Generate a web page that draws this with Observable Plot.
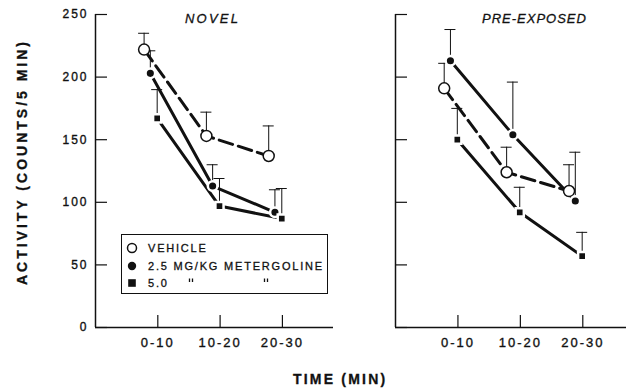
<!DOCTYPE html>
<html><head><meta charset="utf-8">
<script src="https://cdn.jsdelivr.net/npm/d3@7"></script>
<script src="https://cdn.jsdelivr.net/npm/@observablehq/plot@0.6"></script>
<style>
body{margin:0;background:#fff;}
#wrap{position:relative;width:626px;height:388px;overflow:hidden;font-family:"Liberation Sans",Arial,sans-serif;color:#111;-webkit-font-smoothing:antialiased;}
.panel{position:absolute;top:0;}
.panel svg text{letter-spacing:2px;stroke:#111;stroke-width:0.35px;}
.abs{position:absolute;white-space:pre;-webkit-text-stroke:0.3px #111;}
.title{font-style:italic;font-size:13px;line-height:14px;top:12px;}
#ylab{left:-128px;top:152px;width:300px;height:20px;line-height:20px;text-align:center;transform:rotate(-90deg);font-weight:bold;font-size:14px;letter-spacing:3px;}
#xlab{left:293px;top:370px;font-weight:bold;font-size:14px;letter-spacing:2.2px;line-height:18px;}
#legend{left:121px;top:234px;width:205px;height:58px;border:1.5px solid #111;background:#fff;-webkit-text-stroke:0;}
#legend .row{position:absolute;left:0;font-size:11px;letter-spacing:1.8px;line-height:12px;-webkit-text-stroke:0.3px #111;}
#legend svg{position:absolute;}
</style></head><body>
<div id="wrap">
  <div id="left" class="panel" style="left:0"></div>
  <div id="right" class="panel" style="left:345px"></div>
  <div class="abs title" style="left:185px;letter-spacing:2.2px">NOVEL</div>
  <div class="abs title" style="left:482px;letter-spacing:1px">PRE-EXPOSED</div>
  <div class="abs" id="ylab">ACTIVITY (COUNTS/5 MIN)</div>
  <div class="abs" id="xlab">TIME (MIN)</div>
  <div class="abs" id="legend"></div>
</div>
<script>
// ---- data ----
const timeLabels = ["0-10", "10-20", "20-30"];
const timeIndex = [1, 2, 3];
const seriesNames = ["VEHICLE", "2.5 MG/KG METERGOLINE", "5.0"];
const yTicks = [0, 50, 100, 150, 200, 250];

// NOVEL panel: means and standard errors
const novelVehicle = [222, 153, 137];
const novelVehicleSE = [13, 19, 24];
const novelMet25 = [203, 113, 92];
const novelMet25SE = [18, 17, 18];
const novelMet50 = [167, 97, 87];
const novelMet50SE = [23, 22, 24];

// PRE-EXPOSED panel
const preVehicle = [191, 124, 109];
const preVehicleSE = [20, 20, 21];
const preMet25 = [213, 154, 101];
const preMet25SE = [25, 42, 39];
const preMet50 = [150, 92, 57];
const preMet50SE = [25, 20, 19];

// ---- drawing ----
const dodge = [-0.22, -0.12, -0.01];
function rows(means, ses, s) {
  return means.map((m, i) => ({t: timeIndex[i], x: timeIndex[i] + dodge[s], s, y: m, hi: m + ses[i]}));
}

function panel(data, {width, marginLeft, marginRight, xMax, yLabels}) {
  const [veh, met, five] = data;
  const all = data.flat();
  const ink = "#111";
  const pxPerUnitX = (width - marginLeft - marginRight) / xMax;
  const tickLenX = 12 / pxPerUnitX;
  const tickLenY = 12 / ((388 - 14 - 61) / 250);
  const capHalf = 5.5 / pxPerUnitX;
  return Plot.plot({
    width, height: 388,
    marginTop: 14, marginBottom: 61, marginLeft, marginRight,
    x: {domain: [0, xMax], axis: null, label: null},
    y: {domain: [0, 250], axis: null, label: null},
    style: {fontFamily: "Liberation Sans, Arial, sans-serif", fontSize: "12px", color: ink, background: "transparent", overflow: "visible"},
    marks: [
      Plot.ruleX([0], {stroke: ink, strokeWidth: 1.5}),
      Plot.ruleY([0], {stroke: ink, strokeWidth: 1.5}),
      Plot.ruleY(yTicks, {x1: 0, x2: tickLenX, stroke: ink, strokeWidth: 1.2}),
      Plot.ruleX(timeIndex, {y1: 0, y2: tickLenY, stroke: ink, strokeWidth: 1.2}),
      yLabels ? Plot.axisY(yTicks, {tickSize: 0, tickPadding: 7, fontSize: 12, label: null}) : null,
      Plot.axisX(timeIndex, {tickSize: 0, tickPadding: 10, fontSize: 13, tickFormat: d => timeLabels[d - 1], label: null}),
      Plot.ruleX(all, {x: "x", y1: "y", y2: "hi", stroke: ink, strokeWidth: 1}),
      Plot.ruleY(all, {y: "hi", x1: d => d.x - capHalf, x2: d => d.x + capHalf, stroke: ink, strokeWidth: 1}),
      Plot.line(veh, {x: "x", y: "y", stroke: ink, strokeWidth: 3, strokeDasharray: "14,6"}),
      Plot.line(met, {x: "x", y: "y", stroke: ink, strokeWidth: 3}),
      Plot.line(five, {x: "x", y: "y", stroke: ink, strokeWidth: 3}),
      Plot.dot(veh, {x: "x", y: "y", r: 5.5, fill: "white", stroke: ink, strokeWidth: 1.5}),
      Plot.dot(met, {x: "x", y: "y", r: 4.8, fill: ink, stroke: "white", strokeWidth: 2.5}),
      Plot.dot(five, {x: "x", y: "y", symbol: "square", r: 4.6, fill: ink, stroke: "white", strokeWidth: 2.5})
    ]
  });
}

const novelData = [
  rows(novelVehicle, novelVehicleSE, 0),
  rows(novelMet25, novelMet25SE, 1),
  rows(novelMet50, novelMet50SE, 2)
];
const preData = [
  rows(preVehicle, preVehicleSE, 0),
  rows(preMet25, preMet25SE, 1),
  rows(preMet50, preMet50SE, 2)
];

document.getElementById("left").append(panel(novelData, {width: 345, marginLeft: 95, marginRight: 12, xMax: 3.82, yLabels: true}));
document.getElementById("right").append(panel(preData, {width: 281, marginLeft: 50, marginRight: 0, xMax: 3.7, yLabels: false}));

// legend
const legend = document.getElementById("legend");
const symbols = [
  '<circle cx="6" cy="6" r="4.5" fill="white" stroke="#111" stroke-width="1.5"/>',
  '<circle cx="6" cy="6" r="4.2" fill="#111"/>',
  '<rect x="2.2" y="2.2" width="7.6" height="7.6" fill="#111"/>'
];
const rowTops = [7, 25, 42];
seriesNames.forEach((name, i) => {
  const svg = document.createElementNS("http://www.w3.org/2000/svg", "svg");
  svg.setAttribute("width", 12); svg.setAttribute("height", 12);
  svg.style.left = "4px"; svg.style.top = (rowTops[i]) + "px";
  svg.innerHTML = symbols[i];
  legend.append(svg);
  const row = document.createElement("div");
  row.className = "row";
  row.style.top = rowTops[i] + "px";
  row.style.left = "26px";
  row.textContent = name;
  legend.append(row);
});
// ditto marks under "MG/KG" and "METERGOLINE"
[66, 141].forEach(left => {
  const svg = document.createElementNS("http://www.w3.org/2000/svg", "svg");
  svg.setAttribute("width", 6); svg.setAttribute("height", 6);
  svg.style.left = left + "px"; svg.style.top = (rowTops[2] + 1) + "px";
  svg.innerHTML = '<path d="M1.5,0.5V4M4.5,0.5V4" stroke="#111" stroke-width="1.3"/>';
  legend.append(svg);
});
</script>
</body></html>
